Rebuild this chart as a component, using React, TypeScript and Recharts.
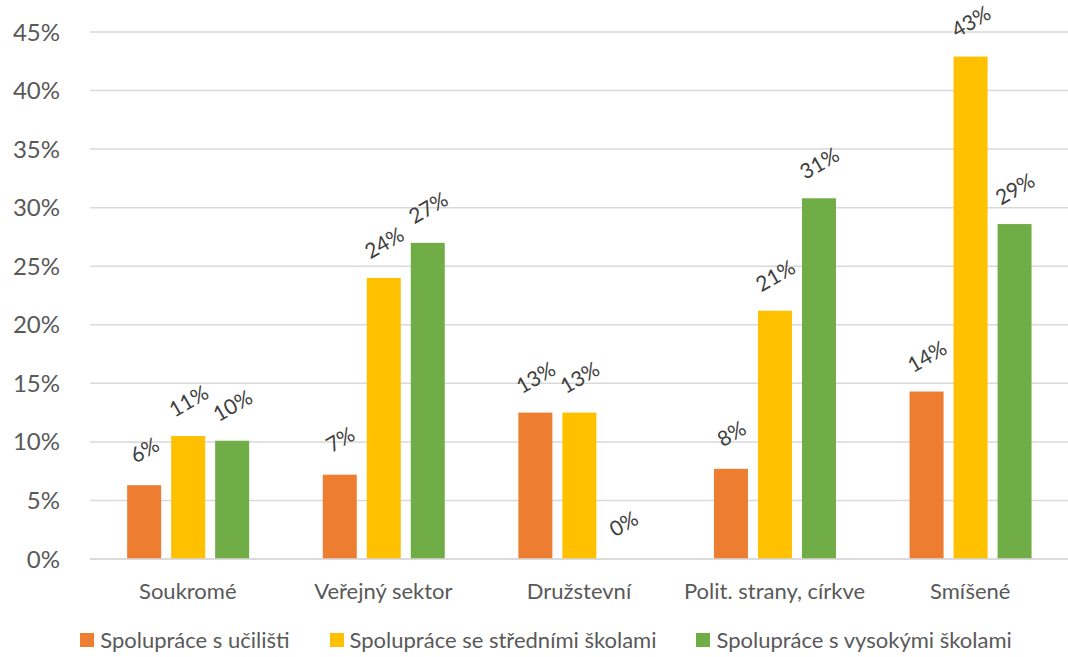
import React from 'react';
import { BarChart, Bar, XAxis, YAxis, CartesianGrid, Legend } from 'recharts';

const categories = ['Soukromé', 'Veřejný sektor', 'Družstevní', 'Polit. strany, církve', 'Smíšené'];
const ucilisteValues = [6.3, 7.2, 12.5, 7.7, 14.3];
const stredniValues = [10.5, 24.0, 12.5, 21.2, 42.9];
const vysokeValues = [10.1, 27.0, 0, 30.8, 28.6];
const yTicks = [0, 5, 10, 15, 20, 25, 30, 35, 40, 45];

const seriesNames = ['Spolupráce s učilišti', 'Spolupráce se středními školami', 'Spolupráce s vysokými školami'];
const seriesColors = ['#ED7D31', '#FFC000', '#70AD47'];

const data = categories.map((c, i) => ({
  name: c,
  a: ucilisteValues[i],
  b: stredniValues[i],
  c: vysokeValues[i],
}));

const FONT = 'Lato, "Open Sans", sans-serif';

const labelText = (cx: number, cy: number, value: number) => (
  <text
    x={cx}
    y={cy}
    textAnchor="middle"
    dominantBaseline="central"
    transform={`rotate(-30 ${cx} ${cy})`}
    fill="#404040"
    fontSize={21}
    fontFamily={FONT}
  >
    {Math.round(value)}%
  </text>
);

const BarWithLabel = (props: any) => {
  const { x, y, width, height, fill, value } = props;
  const v = Array.isArray(value) ? value[1] - value[0] : value;
  const h = Math.max(0, height || 0);
  return (
    <g>
      {h > 0 && <rect x={x} y={y} width={width} height={h} fill={fill} />}
      {labelText(x + width / 2, y - 36, v)}
    </g>
  );
};

const LegendContent = () => (
  <div style={{ display: 'flex', justifyContent: 'center', gap: 40, fontFamily: FONT, fontSize: 22, color: '#595959', paddingTop: 5, paddingLeft: 24 }}>
    {seriesNames.map((n, i) => (
      <div key={n} style={{ display: 'flex', alignItems: 'center' }}>
        <span style={{ display: 'inline-block', width: 14, height: 14, background: seriesColors[i], marginRight: 6 }} />
        <span>{n}</span>
      </div>
    ))}
  </div>
);

export default function App() {
  return (
    <div style={{ position: 'absolute', left: 0, top: 0, background: '#fff' }}>
      <BarChart
        width={1068}
        height={657}
        data={data}
        margin={{ top: 32, right: 0, left: 0, bottom: 0 }}
        barCategoryGap="19%"
        barGap={10}
      >
        <CartesianGrid vertical={false} stroke="#d9d9d9" strokeWidth={1.5} />
        <XAxis
          dataKey="name"
          axisLine={{ stroke: '#d9d9d9', strokeWidth: 1.5 }}
          tickLine={false}
          tick={{ fill: '#595959', fontSize: 22, fontFamily: FONT }}
          tickMargin={18}
          height={62}
        />
        <YAxis
          domain={[0, 45]}
          ticks={yTicks}
          tickFormatter={(v: number) => `${v}%`}
          axisLine={false}
          tickLine={false}
          tick={{ fill: '#595959', fontSize: 24, fontFamily: FONT }}
          width={90}
          tickMargin={24}
        />
        <Legend verticalAlign="bottom" height={36} content={<LegendContent />} />
        <Bar dataKey="a" name={seriesNames[0]} fill={seriesColors[0]} isAnimationActive={false} shape={<BarWithLabel />} />
        <Bar dataKey="b" name={seriesNames[1]} fill={seriesColors[1]} isAnimationActive={false} shape={<BarWithLabel />} />
        <Bar dataKey="c" name={seriesNames[2]} fill={seriesColors[2]} isAnimationActive={false} shape={<BarWithLabel />} />
      </BarChart>
    </div>
  );
}
